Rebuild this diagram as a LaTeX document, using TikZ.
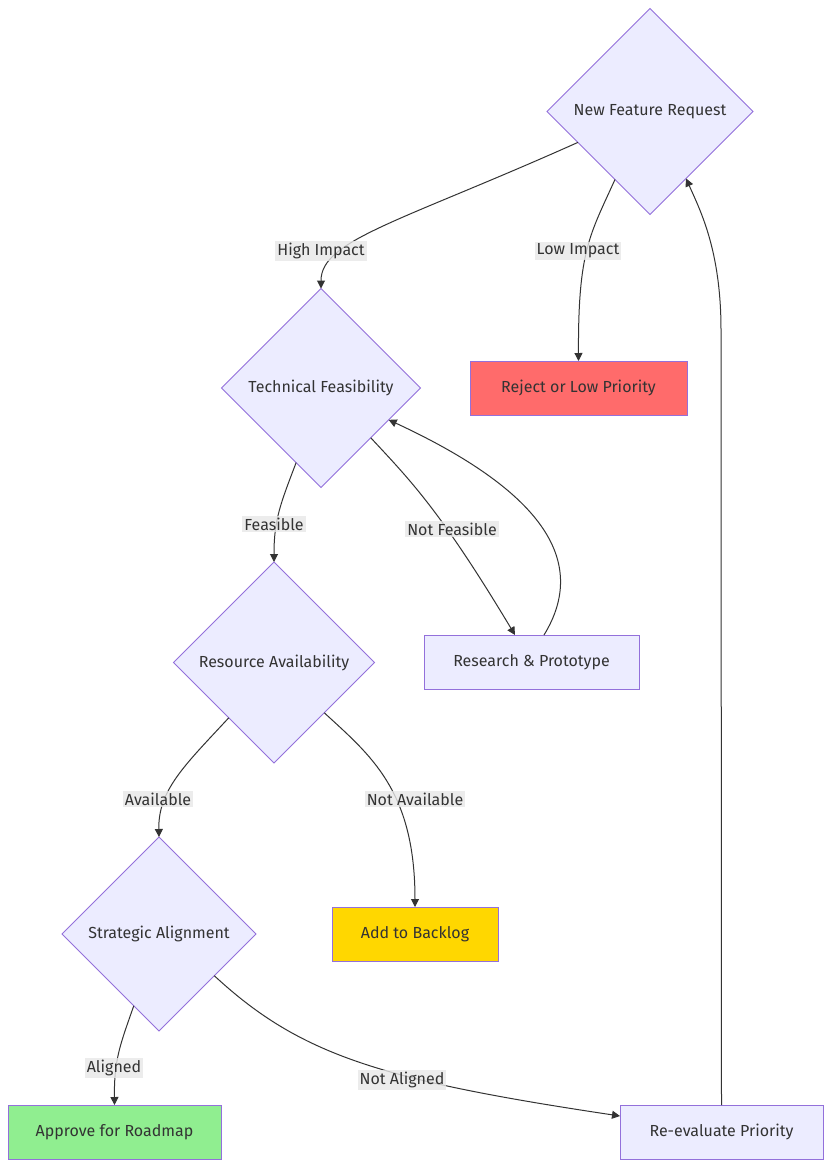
\documentclass[tikz,border=0pt]{standalone}
\usepackage{fontspec}
\setmainfont{Fira Sans}
\usetikzlibrary{shapes.geometric,arrows.meta,calc}
\definecolor{nodefill}{HTML}{ECECFF}
\definecolor{nodedraw}{HTML}{9370DB}
\definecolor{textc}{HTML}{333333}
\definecolor{rejectc}{HTML}{FF6B6B}
\definecolor{goldc}{HTML}{FFD700}
\definecolor{greenc}{HTML}{90EE90}
\definecolor{lblbg}{HTML}{E8E8E8}
\newcommand\fs{\fontsize{12pt}{14pt}\selectfont}
\tikzset{
 dia/.style={diamond, aspect=1, draw=nodedraw, fill=nodefill, line width=0.75pt, inner sep=0pt, outer sep=0pt, text=textc, font=\fs},
 box/.style={rectangle, draw=nodedraw, fill=nodefill, line width=0.75pt, minimum height=40.5pt, inner sep=0pt, outer sep=0pt, text=textc, font=\fs},
 edge/.style={draw=textc, line width=0.75pt, -{Triangle[length=6pt,width=6pt]}},
 lbl/.style={fill=lblbg, fill opacity=0.8, text opacity=1, text=textc, inner sep=1.5pt, font=\fs},
}
\begin{document}
\begin{tikzpicture}[x=0.75pt,y=-0.75pt]
\useasboundingbox[fill=white] (0,0) rectangle (831,1168);
% nodes
\node[dia, minimum size=154.5pt] (nfr) at (650,111.5) {New Feature Request};
\node[dia, minimum size=149.25pt] (tf) at (321,388) {Technical Feasibility};
\node[dia, minimum size=150.75pt] (ra) at (274,662.5) {Resource Availability};
\node[dia, minimum size=145.5pt] (sa) at (159,934) {Strategic Alignment};
\node[box, fill=rejectc, minimum width=162.75pt] (rej) at (578.5,388) {Reject or Low Priority};
\node[box, minimum width=161.25pt] (res) at (531.5,662) {Research \& Prototype};
\node[box, fill=goldc, minimum width=124.5pt] (bl) at (415,934) {Add to Backlog};
\node[box, fill=greenc, minimum width=159.75pt] (ap) at (114.5,1132) {Approve for Roadmap};
\node[box, minimum width=152.25pt] (re) at (721.5,1132) {Re-evaluate Priority};
% edges
\draw[edge] ($(nfr.west)!0.3!(nfr.south)$) .. controls (400,222) and (321,240) .. (tf.north);
\draw[edge] ($(nfr.west)!0.66!(nfr.south)$) .. controls (590,235) and (578,250) .. (rej.north);
\draw[edge] ($(tf.west)!0.75!(tf.south)$) .. controls (280,505) and (274,520) .. (ra.north);
\draw[edge] (tf.south east) .. controls (410,480) and (440,510) .. ($(res.north)+(-16.5,0)$);
\draw[edge] ($(res.north)+(12.5,0)$) .. controls (590,560) and (540,490) .. ($(tf.east)!0.32!(tf.south)$);
\draw[edge] ($(ra.west)!0.55!(ra.south)$) .. controls (185,765) and (158,790) .. (sa.north);
\draw[edge] (ra.south east) .. controls (370,755) and (415,790) .. (bl.north);
\draw[edge] ($(sa.west)!0.74!(sa.south)$) .. controls (120,1045) and (114,1060) .. (ap.north);
\draw[edge] ($(sa.east)!0.43!(sa.south)$) .. controls (300,1055) and (380,1080) .. ($(re.west)+(0,-16)$);
\draw[edge] (re.north) -- (721,330) .. controls (721,250) and (700,210) .. ($(nfr.east)!0.65!(nfr.south)$);
% labels
\node[lbl] (l1) at (321,251) {High Impact};
\node[lbl] (l2) at (578,251) {Low Impact};
\node[lbl] (l3) at (274,524) {Feasible};
\node[lbl] (l4) at (452,529) {Not Feasible};
\node[lbl] (l5) at (158,799) {Available};
\node[lbl] (l6) at (415,799) {Not Available};
\node[lbl] (l7) at (114,1068) {Aligned};
\node[lbl] (l8) at (402,1080) {Not Aligned};
\end{tikzpicture}
\end{document}
